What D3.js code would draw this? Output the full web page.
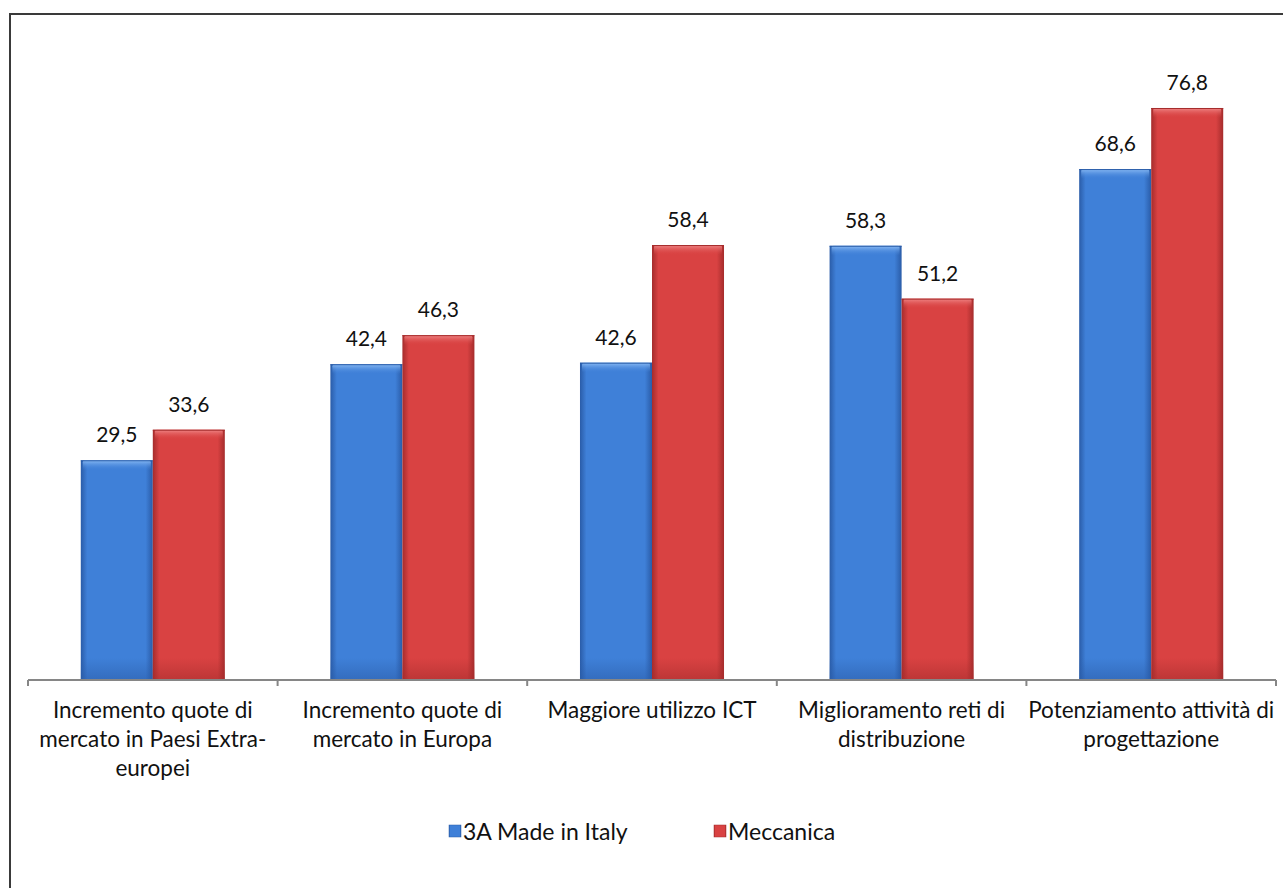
<!DOCTYPE html>
<html>
<head>
<meta charset="utf-8">
<script src="https://cdn.jsdelivr.net/npm/d3@7"></script>
<style>
  html, body { margin: 0; padding: 0; background: #fff; }
  svg { display: block; font-family: Lato, "Open Sans", sans-serif; }
</style>
</head>
<body>
<svg id="chart" width="1283" height="888"></svg>
<script>
// Categories (each label split into its printed lines)
const categories = [
  ["Incremento quote di", "mercato in Paesi Extra-", "europei"],
  ["Incremento quote di", "mercato in Europa"],
  ["Maggiore utilizzo ICT"],
  ["Miglioramento reti di", "distribuzione"],
  ["Potenziamento attività di", "progettazione"]
];
const seriesNames = ["3A Made in Italy", "Meccanica"];
const madeInItaly = [29.5, 42.4, 42.6, 58.3, 68.6];
const meccanica   = [33.6, 46.3, 58.4, 51.2, 76.8];

const svg = d3.select("#chart");
const defs = svg.append("defs");

// Outer frame
svg.append("rect")
  .attr("x", 10).attr("y", 14)
  .attr("width", 1290).attr("height", 900)
  .attr("fill", "none").attr("stroke", "#3a3a3a").attr("stroke-width", 2);

const x0 = d3.scaleBand().domain(d3.range(categories.length)).range([28, 1276]).paddingInner(0).paddingOuter(0);
const x1 = d3.scaleBand().domain([0, 1]).range([0, x0.bandwidth()]).paddingInner(0).paddingOuter(0.733);
const y = d3.scaleLinear().domain([0, 80]).range([680, 680 - 80 * 7.448]);

// Bar shading: darker sides, brighter middle
const palettes = [
  { id: "g0", edge: "#2a5ca8", mid: "#3f80d8", top: "#8cbcf5" },
  { id: "g1", edge: "#a52c2c", mid: "#d94242", top: "#f08888" }
];
palettes.forEach(p => {
  const g = defs.append("linearGradient").attr("id", p.id).attr("x1", 0).attr("x2", 1).attr("y1", 0).attr("y2", 0);
  g.append("stop").attr("offset", "0%").attr("stop-color", p.edge);
  g.append("stop").attr("offset", "9%").attr("stop-color", p.mid);
  g.append("stop").attr("offset", "90%").attr("stop-color", p.mid);
  g.append("stop").attr("offset", "100%").attr("stop-color", p.edge);
  const t = defs.append("linearGradient").attr("id", p.id + "t").attr("x1", 0).attr("x2", 0).attr("y1", 0).attr("y2", 1);
  t.append("stop").attr("offset", "0%").attr("stop-color", p.top);
  t.append("stop").attr("offset", "100%").attr("stop-color", p.mid).attr("stop-opacity", 0);
  const b = defs.append("linearGradient").attr("id", p.id + "b").attr("x1", 0).attr("x2", 0).attr("y1", 0).attr("y2", 1);
  b.append("stop").attr("offset", "0%").attr("stop-color", p.edge).attr("stop-opacity", 0);
  b.append("stop").attr("offset", "100%").attr("stop-color", p.edge).attr("stop-opacity", 0.55);
});

const rows = categories.map((c, i) => [madeInItaly[i], meccanica[i]]);

const groups = svg.append("g").selectAll("g").data(rows).join("g")
  .attr("transform", (d, i) => `translate(${x0(i)},0)`);

groups.each(function(vals) {
  const g = d3.select(this);
  vals.forEach((v, s) => {
    const bx = x1(s), bw = x1.bandwidth();
    const top = y(v), h = y(0) - y(v);
    g.append("rect").attr("x", bx).attr("y", top).attr("width", bw).attr("height", h)
      .attr("fill", `url(#${palettes[s].id})`);
    g.append("rect").attr("x", bx + 2).attr("y", top).attr("width", bw - 4).attr("height", Math.min(10, h))
      .attr("rx", 2)
      .attr("fill", `url(#${palettes[s].id}t)`);
    g.append("rect").attr("x", bx).attr("y", y(0) - 22).attr("width", bw).attr("height", 22)
      .attr("fill", `url(#${palettes[s].id}b)`);
    g.append("line").attr("x1", bx).attr("x2", bx + bw).attr("y1", top + 0.5).attr("y2", top + 0.5)
      .attr("stroke", palettes[s].edge).attr("stroke-width", 1);
    g.append("text")
      .attr("x", bx + bw / 2).attr("y", top - 18)
      .attr("text-anchor", "middle")
      .attr("font-size", 21).attr("fill", "#111")
      .text(d3.format(".1f")(v).replace(".", ","));
  });
});

// Category axis
const axis = svg.append("g").attr("transform", `translate(0,${y(0)})`);
axis.append("line").attr("x1", 28).attr("x2", 1276).attr("y1", 0).attr("y2", 0)
  .attr("stroke", "#868686").attr("stroke-width", 2);
axis.selectAll("line.tick").data(d3.range(categories.length + 1)).join("line")
  .attr("class", "tick")
  .attr("x1", i => 28 + i * x0.step()).attr("x2", i => 28 + i * x0.step())
  .attr("y1", 0).attr("y2", 6)
  .attr("stroke", "#868686").attr("stroke-width", 2);

axis.selectAll("text.cat").data(categories).join("text")
  .attr("class", "cat")
  .attr("x", (d, i) => x0(i) + x0.bandwidth() / 2)
  .attr("y", 38)
  .attr("text-anchor", "middle")
  .attr("font-size", 22.5).attr("fill", "#111")
  .each(function(lines) {
    d3.select(this).selectAll("tspan").data(lines).join("tspan")
      .attr("x", d3.select(this).attr("x"))
      .attr("dy", (l, j) => j === 0 ? 0 : 29)
      .text(l => l);
  });

// Legend
const legendX = d3.scalePoint().domain(seriesNames).range([449, 714]);
const legend = svg.append("g").attr("transform", "translate(0,833)");
const items = legend.selectAll("g").data(seriesNames).join("g")
  .attr("transform", d => `translate(${legendX(d)},0)`);
items.append("rect").attr("x", 0).attr("y", -8).attr("width", 12).attr("height", 12)
  .attr("fill", (d, s) => `url(#${palettes[s].id})`)
  .attr("stroke", (d, s) => palettes[s].edge).attr("stroke-width", 0.5);
items.append("text").attr("x", 14).attr("y", 7)
  .attr("font-size", 23).attr("fill", "#111").text(d => d);
</script>
</body>
</html>
